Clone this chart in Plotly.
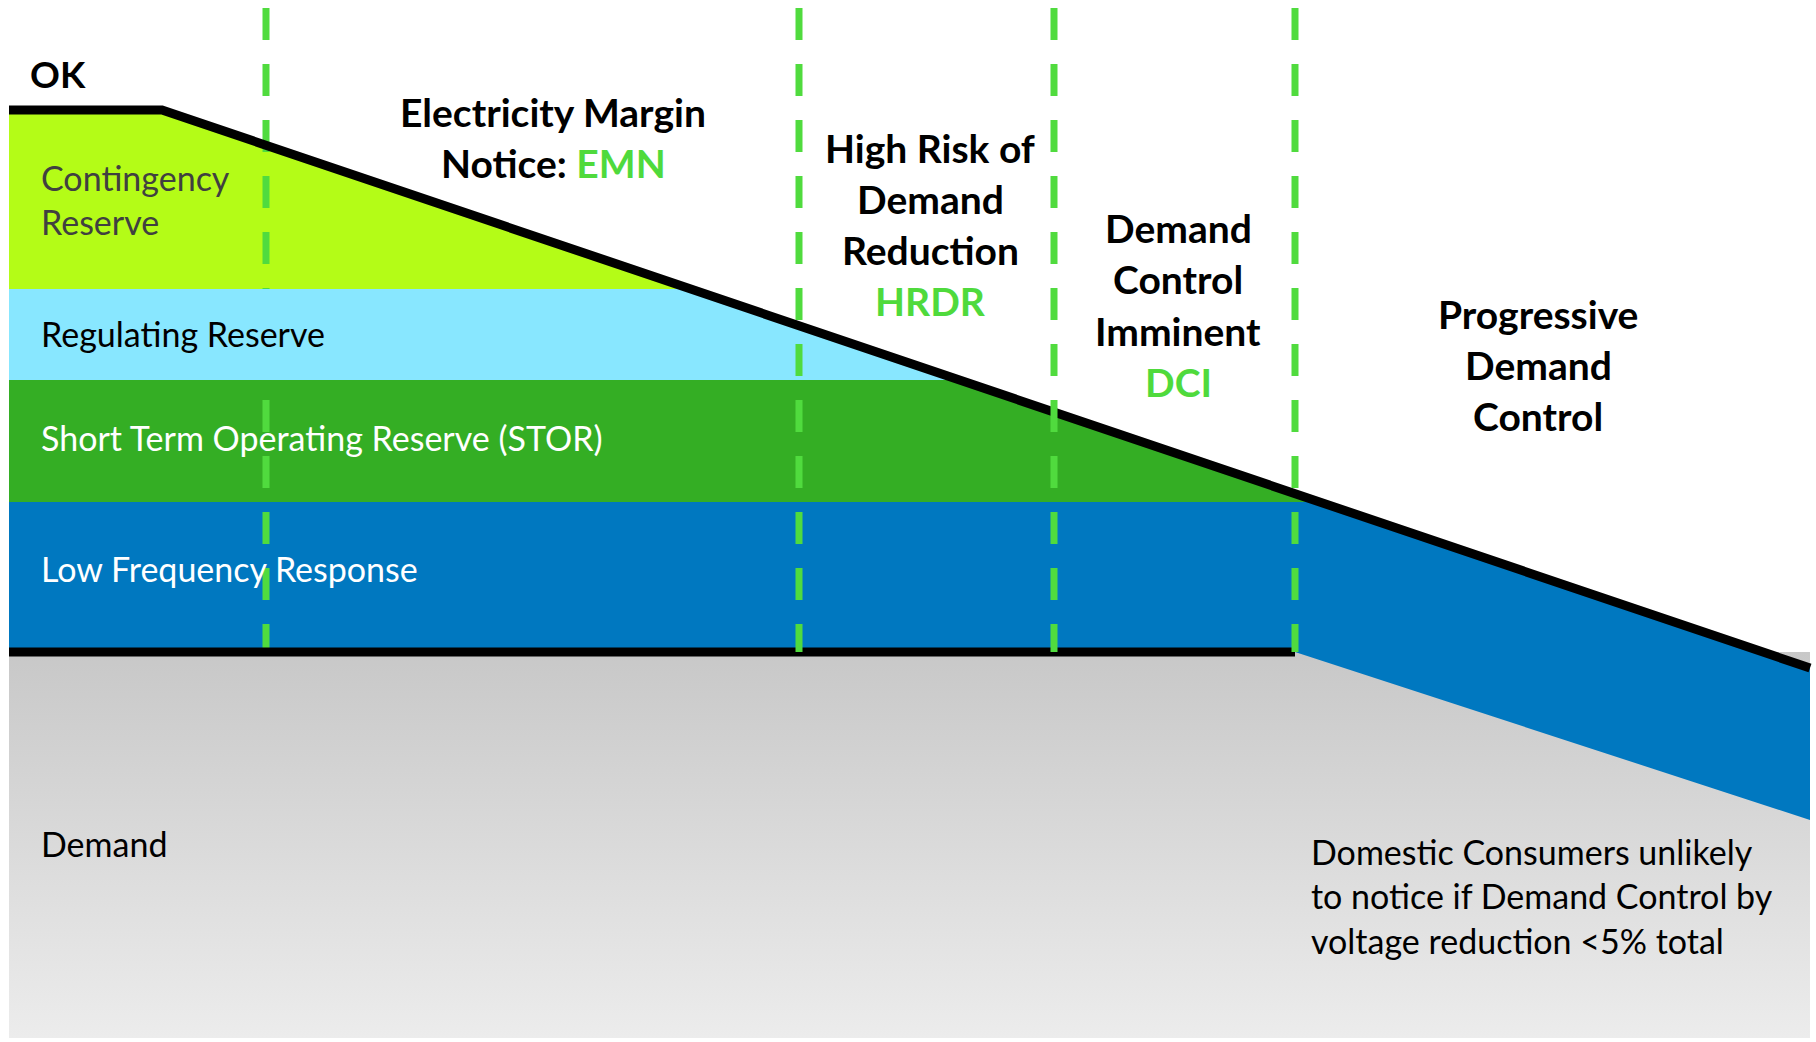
import numpy as np
import plotly.graph_objects as go

W, H = 1816, 1042

# ---- data (chart units; y grows upwards) ----
x_left, x_right = 9, 1810
margin_line_x = [9, 162, 1810]          # available margin (black line)
margin_line_y = [932, 932, 374]
stage_x = [266, 799, 1054, 1295]        # stage boundaries (dashed)
contingency_bottom = 753
regulating_bottom = 662
stor_bottom = 540
lfr_bottom = 390
demand_bottom = 4
lfr_lower_x = [1295, 1810]             # progressive demand control wedge
lfr_lower_y = [390, 222]
dash_top, dash_bottom = 1034, 390

GREEN_TXT = "#4FDA3C"
FONT = "Lato"


def x_on_line(level):
    # x where the margin line reaches a given level (line decreasing)
    return float(np.interp(level, margin_line_y[::-1], margin_line_x[::-1]))


fig = go.Figure()

def poly(xs, ys, color):
    fig.add_trace(go.Scatter(x=xs, y=ys, fill="toself", fillcolor=color, mode="lines",
                             line=dict(width=0), hoverinfo="skip", showlegend=False))

def dashed(sx):
    fig.add_trace(go.Scatter(x=[sx, sx], y=[dash_top, dash_bottom], mode="lines",
                             line=dict(color="#50DB3E", width=7, dash="32px,24px"),
                             hoverinfo="skip", showlegend=False))

# Demand (grey gradient)
fig.add_trace(go.Scatter(
    x=[x_left, x_right, x_right, x_left, x_left],
    y=[demand_bottom, demand_bottom, lfr_bottom, lfr_bottom, demand_bottom],
    fill="toself", mode="lines", line=dict(width=0), hoverinfo="skip", showlegend=False,
    fillgradient=dict(type="vertical", colorscale=[[0, "#ECECEC"], [1, "#C8C8C8"]])))

xs = x_on_line(stor_bottom)
xr = x_on_line(regulating_bottom)
xc = x_on_line(contingency_bottom)

# Low Frequency Response
poly([x_left, xs, margin_line_x[-1], lfr_lower_x[1], lfr_lower_x[0], x_left],
     [stor_bottom, stor_bottom, margin_line_y[-1], lfr_lower_y[1], lfr_lower_y[0], lfr_bottom],
     "#0078C0")
# STOR
poly([x_left, xr, xs, x_left], [regulating_bottom, regulating_bottom, stor_bottom, stor_bottom], "#34AE24")
# Contingency reserve
poly([x_left, margin_line_x[1], xc, x_left],
     [margin_line_y[0], margin_line_y[1], contingency_bottom, contingency_bottom], "#B4FC17")
# first stage line sits under the regulating-reserve band in the original
dashed(stage_x[0])
# Regulating reserve
poly([x_left, xc, xr, x_left], [contingency_bottom, contingency_bottom, regulating_bottom, regulating_bottom], "#88E7FF")

# Black lines
fig.add_trace(go.Scatter(x=margin_line_x, y=margin_line_y, mode="lines",
                         line=dict(color="black", width=9), hoverinfo="skip", showlegend=False))
fig.add_trace(go.Scatter(x=[x_left, stage_x[-1]], y=[lfr_bottom, lfr_bottom], mode="lines",
                         line=dict(color="black", width=9), hoverinfo="skip", showlegend=False))

# Remaining dashed stage boundaries
for sx in stage_x[1:]:
    dashed(sx)

# ---- text ----
def txt(x, y, s, size, color="black", anchor="left", bold=False):
    if bold:
        s = "<b>" + s + "</b>"
    fig.add_annotation(x=x, y=y, text=s, showarrow=False, xanchor=anchor, yanchor="middle",
                       font=dict(family=FONT, size=size, color=color))

REG = 34
BOLD = 39

txt(28, H - 73, "OK", 37, bold=True)
band_labels = [
    (H - 177, "Contingency", "#404040"),
    (H - 221, "Reserve", "#404040"),
    (H - 333, "Regulating Reserve", "black"),
    (H - 437, "Short Term Operating Reserve (STOR)", "white"),
    (H - 568, "Low Frequency Response", "white"),
    (H - 843, "Demand", "black"),
]
for y, s, c in band_labels:
    txt(39, y, s, REG, c)

stage_titles = [
    (553, [112, 163], ["Electricity Margin", "Notice: <span style='color:%s'>EMN</span>" % GREEN_TXT]),
    (930, [148, 199, 250, 301], ["High Risk of", "Demand", "Reduction", "<span style='color:%s'>HRDR</span>" % GREEN_TXT]),
    (1178, [228, 279, 331, 382], ["Demand", "Control", "Imminent", "<span style='color:%s'>DCI</span>" % GREEN_TXT]),
    (1538, [314, 365, 416], ["Progressive", "Demand", "Control"]),
]
for cx, ys, lines in stage_titles:
    for y, s in zip(ys, lines):
        txt(cx, H - y, s, BOLD, anchor="center", bold=True)

note_lines = ["Domestic Consumers unlikely", "to notice if Demand Control by",
              "voltage reduction &lt;5% total"]
for y, s in zip([851, 895, 940], note_lines):
    txt(1309, H - y, s, REG)

fig.update_layout(
    width=W, height=H, margin=dict(l=0, r=0, t=0, b=0),
    paper_bgcolor="white", plot_bgcolor="white",
    xaxis=dict(range=[0, W], visible=False, fixedrange=True),
    yaxis=dict(range=[0, H], visible=False, fixedrange=True),
    showlegend=False,
)

fig.write_html("out.html", config={"displayModeBar": False},
               post_script="document.body.style.margin='0';")
